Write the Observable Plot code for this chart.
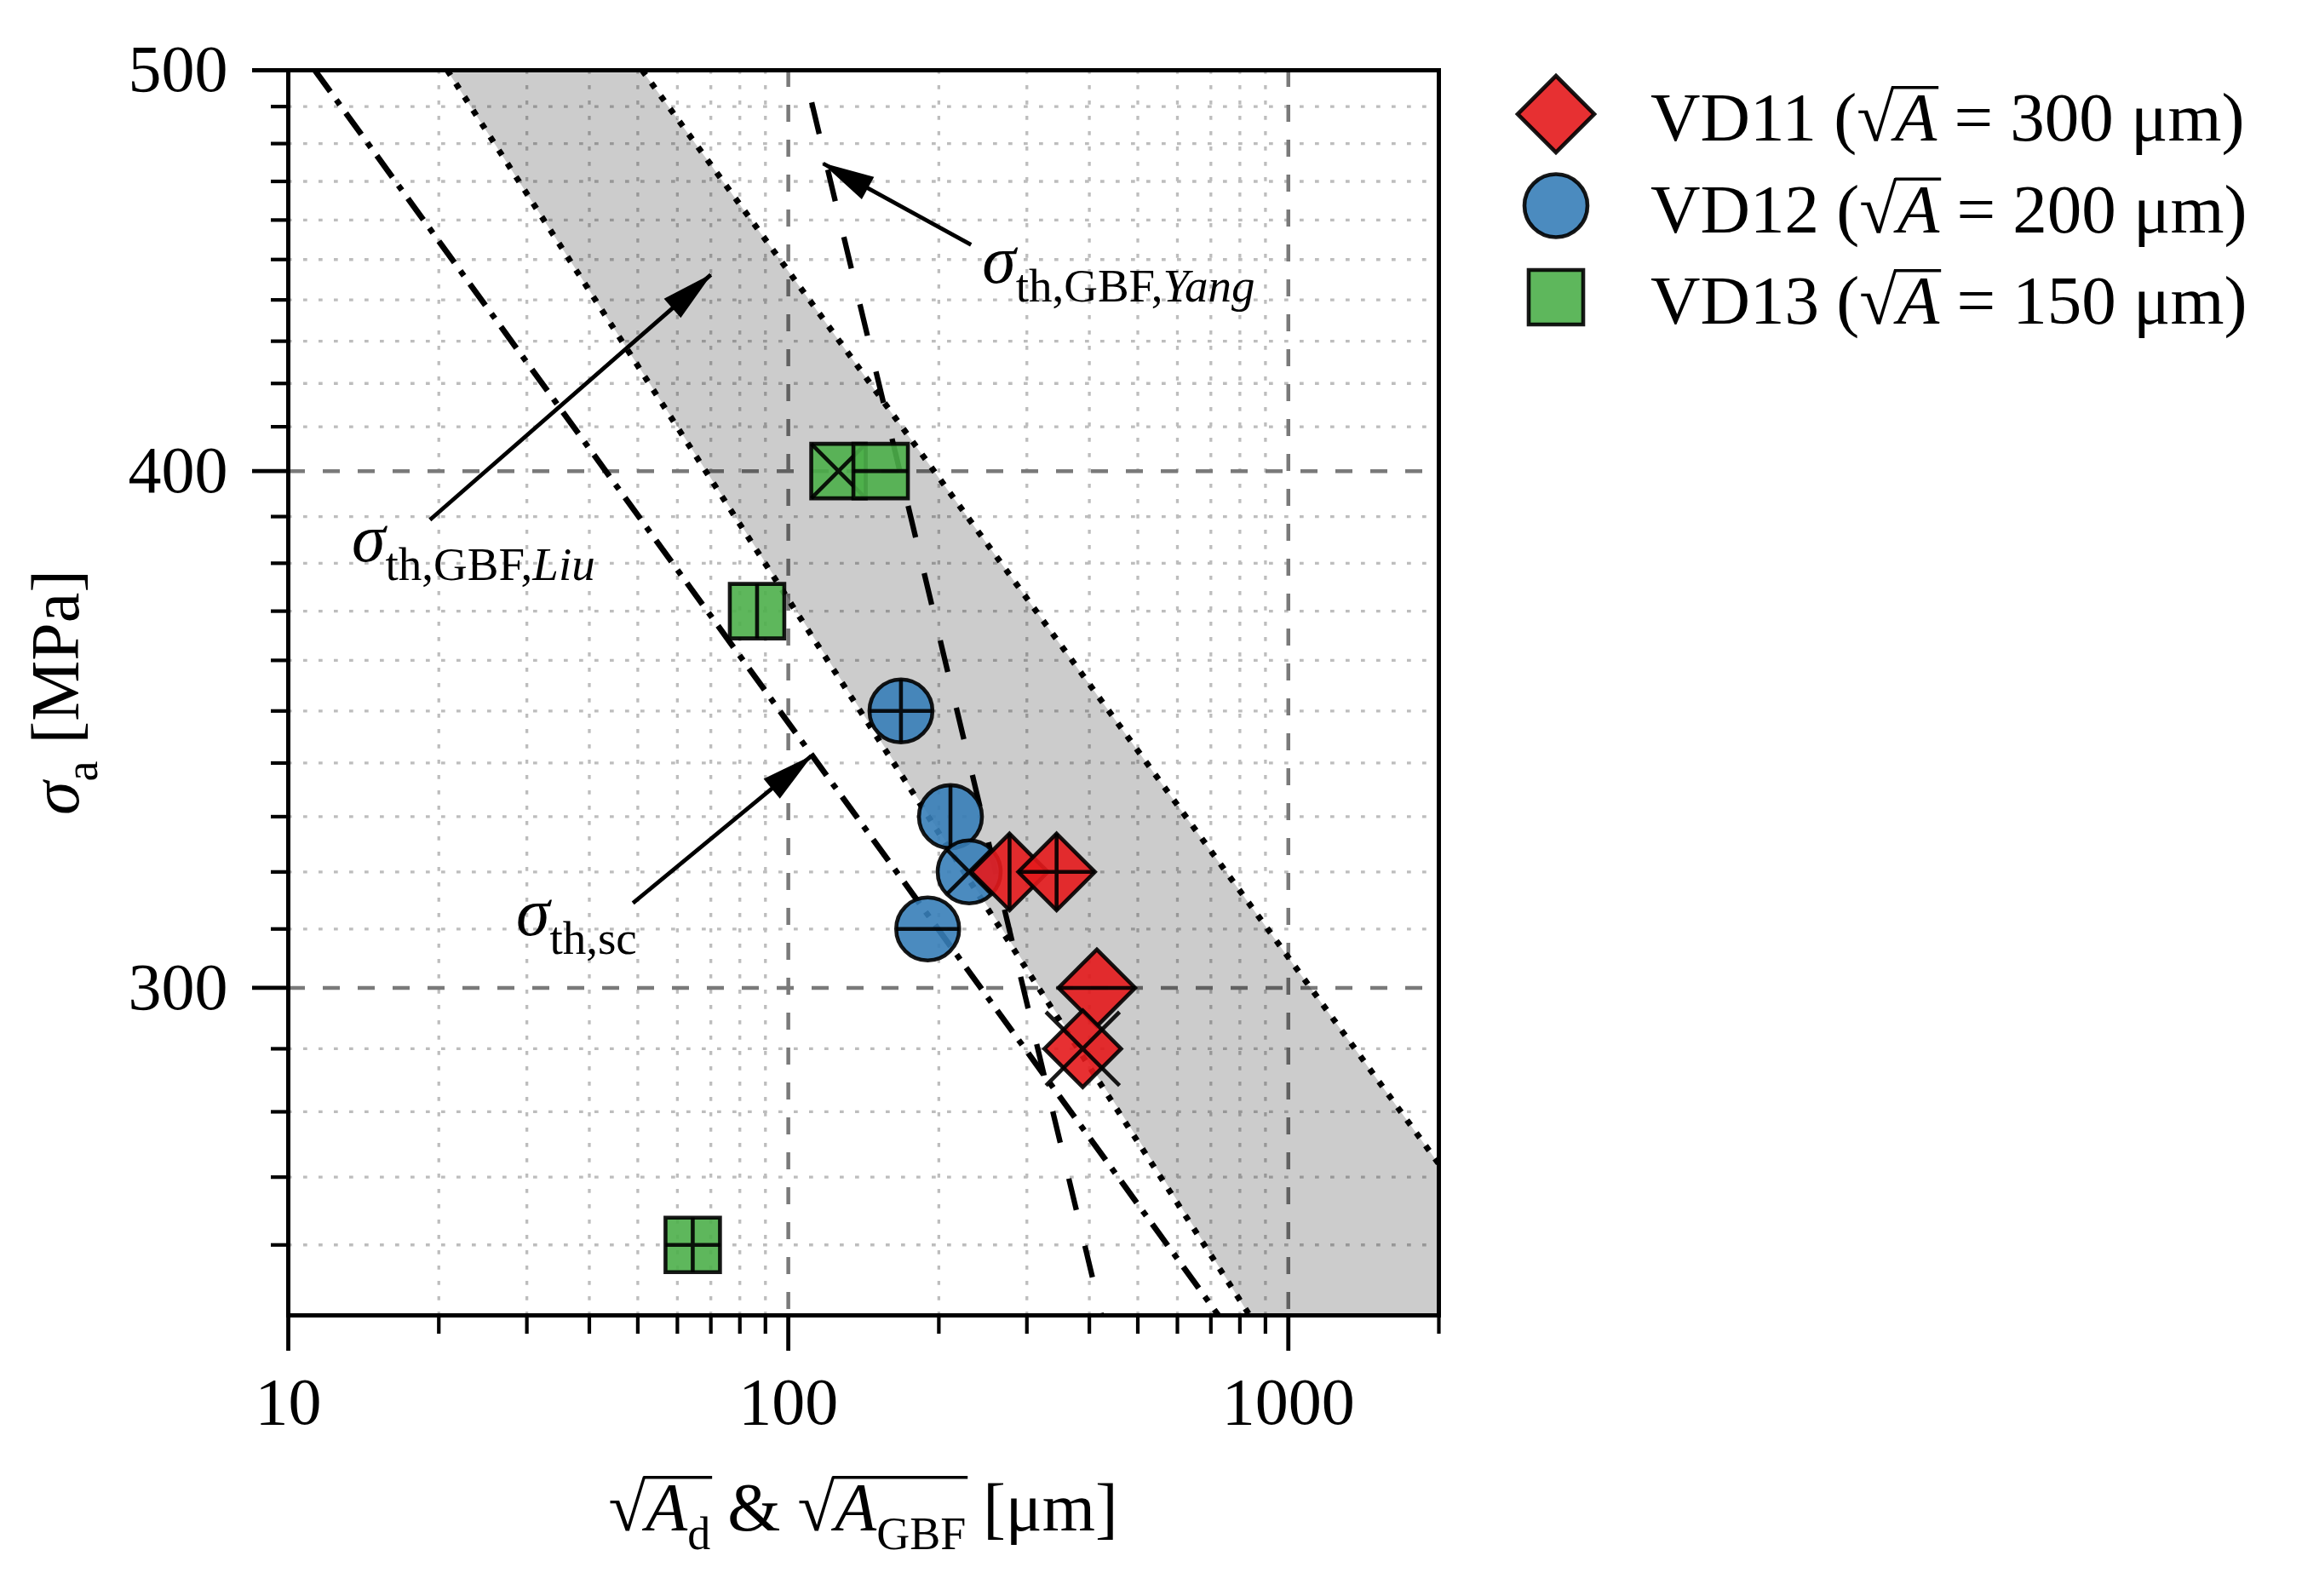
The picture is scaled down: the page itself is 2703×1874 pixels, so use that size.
<!DOCTYPE html>
<html><head><meta charset="utf-8">
<script src="https://cdn.jsdelivr.net/npm/d3@7"></script>
<script src="https://cdn.jsdelivr.net/npm/@observablehq/plot@0.6"></script>
<style>
html,body{margin:0;padding:0;background:#fff;}
#wrap{position:relative;width:2703px;height:1874px;overflow:hidden;}
</style></head><body><div id="wrap"></div>
<script>
// ---------- data ----------
const xMajorTicks = [10, 100, 1000];
const xMinorTicks = [20, 30, 40, 50, 60, 70, 80, 90, 200, 300, 400, 500, 600, 700, 800, 900, 2000];
const yMajorTicks = [300, 400, 500];
const yMinorTicks = [260, 270, 280, 290, 310, 320, 330, 340, 350, 360, 370, 380, 390, 410, 420, 430, 440, 450, 460, 470, 480, 490];

const seriesNames = ["VD11", "VD12", "VD13"];
const seriesSizes = ["300", "200", "150"];

const vd11X = [277, 344, 414, 388];
const vd11Y = [320, 320, 300, 290];
const vd11Mark = ["vline", "plus", "hline", "cross"];

const vd12X = [168, 211, 230, 190];
const vd12Y = [350, 330, 320, 310];
const vd12Mark = ["plus", "vline", "cross", "hline"];

const vd13X = [126, 153, 86.6, 64.4];
const vd13Y = [400, 400, 370, 260];
const vd13Mark = ["cross", "hline", "vline", "plus"];

// threshold lines (end points)
const scLineX = [11.3, 725];   const scLineY = [500, 250];
const liuLowX = [20.8, 837];   const liuLowY = [500, 250];
const liuHighX = [51, 2000];   const liuHighY = [500, 272];
const yangX = [107.5, 423];    const yangY = [500, 250];
const bandY = [500, 272, 250];
const bandX1 = [20.8, 539, 837];
const bandX2 = [51, 2000, 2000];

// annotations
const arrowTailX = [232, 19.2, 48.9];
const arrowTailY = [453.7, 389.3, 314.5];
const arrowTipX = [117.4, 70.0, 111.1];
const arrowTipY = [474.7, 446.2, 341.3];
const annotX = [244.6, 13.42, 28.6];
const annotY = [444.1, 380.4, 308.8];
const annotSub = ["th,GBF,", "th,GBF,", "th,sc"];
const annotSubItalic = ["Yang", "Liu", ""];

// ---------- helpers ----------
const FONT = "'Liberation Serif', 'Times New Roman', serif";
const pts = (xs, ys) => xs.map((x, i) => ({x, y: ys[i]}));
const rOf = (s) => Math.sqrt(s / Math.PI);
const shapes = {
  diamond: {draw(c, s) { const r = rOf(s); c.moveTo(0, -r); c.lineTo(r, 0); c.lineTo(0, r); c.lineTo(-r, 0); c.closePath(); }},
  circle: {draw(c, s) { const r = rOf(s); c.moveTo(r, 0); c.arc(0, 0, r, 0, 2 * Math.PI); c.closePath(); }},
  square: {draw(c, s) { const r = rOf(s); c.moveTo(-r, -r); c.lineTo(r, -r); c.lineTo(r, r); c.lineTo(-r, r); c.closePath(); }}
};
function overlay(kind, xk) {
  return {draw(c, s) {
    const r = rOf(s);
    if (kind === "vline" || kind === "plus") { c.moveTo(0, -r); c.lineTo(0, r); }
    if (kind === "hline" || kind === "plus") { c.moveTo(-r, 0); c.lineTo(r, 0); }
    if (kind === "cross") { const k = r * xk; c.moveTo(-k, -k); c.lineTo(k, k); c.moveTo(-k, k); c.lineTo(k, -k); }
  }};
}
const series = [
  {name: "VD12", xs: vd12X, ys: vd12Y, ms: vd12Mark, color: "#377eb8", shape: "circle", r: 37, xk: 0.7},
  {name: "VD11", xs: vd11X, ys: vd11Y, ms: vd11Mark, color: "#e41a1c", shape: "diamond", r: 45, xk: 0.96},
  {name: "VD13", xs: vd13X, ys: vd13Y, ms: vd13Mark, color: "#4daf4a", shape: "square", r: 32, xk: 1.0}
];
const legendOrder = ["VD11", "VD12", "VD13"];
const MSW = 4.6;

const dotMarks = [];
for (const s of series) {
  const data = s.xs.map((x, i) => ({x, y: s.ys[i], m: s.ms[i]}));
  data.forEach(d => {
    dotMarks.push(Plot.dot([d], {x: "x", y: "y", r: s.r, symbol: shapes[s.shape], fill: s.color, fillOpacity: 0.9, stroke: "black", strokeOpacity: 0.9, strokeWidth: MSW}));
    dotMarks.push(Plot.dot([d], {x: "x", y: "y", r: s.r, symbol: overlay(d.m, s.xk), fill: "none", stroke: "black", strokeOpacity: 0.9, strokeWidth: MSW}));
  });
}

const band = bandY.map((y, i) => ({y, x1: bandX1[i], x2: bandX2[i]}));
const arrows = arrowTailX.map((x, i) => ({x1: x, y1: arrowTailY[i], x2: arrowTipX[i], y2: arrowTipY[i]}));

const chart = Plot.plot({
  width: 1760, height: 1874,
  marginLeft: 338, marginRight: 71, marginTop: 82, marginBottom: 330,
  x: {type: "log", domain: [10, 2000]},
  y: {type: "log", domain: [250, 500]},
  style: {fontFamily: FONT, fontSize: "78px", background: "white", color: "black", overflow: "visible"},
  marks: [
    Plot.gridX(xMinorTicks, {stroke: "#bdbdbd", strokeOpacity: 1, strokeWidth: 3.3, strokeDasharray: "4.7,13.3"}),
    Plot.gridY(yMinorTicks, {stroke: "#bdbdbd", strokeOpacity: 1, strokeWidth: 3.3, strokeDasharray: "4.7,13.3"}),
    Plot.gridX(xMajorTicks.slice(1), {stroke: "#7a7a7a", strokeOpacity: 1, strokeWidth: 4.5, strokeDasharray: "20,21"}),
    Plot.gridY(yMajorTicks.slice(0, 2), {stroke: "#7a7a7a", strokeOpacity: 1, strokeWidth: 4.5, strokeDasharray: "20,21"}),
    Plot.areaX(band, {y: "y", x1: "x1", x2: "x2", fill: "black", fillOpacity: 0.2, clip: true}),
    Plot.line(pts(liuLowX, liuLowY), {x: "x", y: "y", stroke: "black", strokeWidth: 7, strokeDasharray: "7,11.6", strokeLinecap: "butt", clip: true}),
    Plot.line(pts(liuHighX, liuHighY), {x: "x", y: "y", stroke: "black", strokeWidth: 7, strokeDasharray: "7,11.6", strokeLinecap: "butt", clip: true}),
    Plot.line(pts(scLineX, scLineY), {x: "x", y: "y", stroke: "black", strokeWidth: 6.8, strokeDasharray: "31,12,7,12", strokeLinecap: "butt", clip: true}),
    Plot.line(pts(yangX, yangY), {x: "x", y: "y", stroke: "black", strokeWidth: 6.3, strokeDasharray: "38,43.2", strokeDashoffset: 42.4, strokeLinecap: "butt", clip: true}),
    Plot.link(arrows, {x1: "x1", y1: "y1", x2: "x2", y2: "y2", stroke: "black", strokeWidth: 4.8}),
    ...dotMarks,
    Plot.frame({stroke: "black", strokeWidth: 5}),
    Plot.axisX(xMinorTicks, {tickSize: 22, strokeWidth: 4.2, fill: "none", label: null}),
    Plot.axisX(xMajorTicks, {tickSize: 42, tickPadding: 30, strokeWidth: 4.8, tickFormat: d => String(d), fontSize: 78, label: null}),
    Plot.axisY(yMinorTicks, {tickSize: 20, strokeWidth: 4.2, fill: "none", label: null}),
    Plot.axisY(yMajorTicks, {tickSize: 42, tickPadding: 29, strokeWidth: 4.8, tickFormat: d => String(d), fontSize: 78, label: null})
  ]
});
const wrap = document.getElementById("wrap");
wrap.appendChild(chart);
const svg = d3.select(chart);
const sx = chart.scale("x"), sy = chart.scale("y");

// arrow heads
const defs = svg.insert("defs", ":first-child");
defs.append("marker").attr("id", "ahead").attr("markerUnits", "userSpaceOnUse")
  .attr("viewBox", "-65 -20 70 40").attr("refX", 0).attr("refY", 0)
  .attr("markerWidth", 70).attr("markerHeight", 40).attr("orient", "auto")
  .append("path").attr("d", "M2,0 L-60,-15 L-60,15 Z").attr("fill", "black");
svg.selectAll('g[aria-label="link"] path').attr("marker-end", "url(#ahead)");

// rich text helper
const ctx = document.createElement("canvas").getContext("2d");
function rich(parent, x, y, parts, {anchor = "start", fs = 80, subFs = 54, subShift = 22} = {}) {
  const t = parent.append("text").attr("x", x).attr("y", y).attr("text-anchor", anchor)
    .attr("font-size", fs).attr("font-family", FONT).attr("fill", "black");
  let idx = 0, prevSub = false;
  const info = [];
  for (const p of parts) {
    const ts = t.append("tspan").text(p.t);
    if (p.italic) ts.attr("font-style", "italic");
    const isSub = !!p.sub;
    if (isSub) ts.attr("font-size", subFs);
    if (isSub !== prevSub) ts.attr("dy", isSub ? subShift : -subShift);
    prevSub = isSub;
    info.push({start: idx, end: idx + p.t.length - 1, p});
    idx += p.t.length;
  }
  const node = t.node();
  info.forEach((it, k) => {
    if (it.p.rad) {
      ctx.font = `${fs}px ${FONT}`;
      const m = ctx.measureText("√");
      const st = node.getStartPositionOfChar(it.start);
      const x0 = st.x + m.actualBoundingBoxRight - 3;
      const yTop = st.y - m.actualBoundingBoxAscent + 1.8;
      const last = k + it.p.rad;
      const x1 = node.getEndPositionOfChar(info[last].end).x + 2;
      parent.append("line").attr("x1", x0).attr("x2", x1).attr("y1", yTop).attr("y2", yTop)
        .attr("stroke", "black").attr("stroke-width", 3.6);
    }
  });
  return t;
}

const ann = svg.append("g");
for (let i = 0; i < annotX.length; i++) {
  const parts = [{t: "σ", italic: true}, {t: annotSub[i], sub: true}];
  if (annotSubItalic[i]) parts.push({t: annotSubItalic[i], sub: true, italic: true});
  rich(ann, sx.apply(annotX[i]), sy.apply(annotY[i]), parts, {fs: 80, subFs: 55, subShift: 22});
}

// axis labels
rich(svg.append("g"), (338 + 1689) / 2, 1797, [
  {t: "√", rad: 2}, {t: "A", italic: true}, {t: "d", sub: true}, {t: " & "},
  {t: "√", rad: 2}, {t: "A", italic: true}, {t: "GBF", sub: true}, {t: " [μm]"}
], {anchor: "middle", fs: 80, subFs: 54, subShift: 22});
const yl = svg.append("g").attr("transform", `translate(92,${(82 + 1544) / 2}) rotate(-90)`);
rich(yl, 0, 0, [{t: "σ", italic: true}, {t: "a", sub: true}, {t: " [MPa]"}], {anchor: "middle", fs: 80, subFs: 54, subShift: 22});

// legend
const leg = d3.select(wrap).append("svg").attr("width", 943).attr("height", 470)
  .style("position", "absolute").style("left", "1760px").style("top", "0px");
legendOrder.forEach((name, i) => {
  const s = series.find(d => d.name === name);
  const cy = 134 + i * 107.5;
  leg.append("path").attr("transform", `translate(67,${cy})`)
    .attr("d", d3.symbol(shapes[s.shape], s.r * s.r * Math.PI)())
    .attr("fill", s.color).attr("fill-opacity", 0.9).attr("stroke", "black").attr("stroke-opacity", 0.9).attr("stroke-width", MSW);
  const k = seriesNames.indexOf(name);
  rich(leg, 178, cy + 31, [
    {t: name + " ("}, {t: "√", rad: 1}, {t: "A", italic: true}, {t: " = " + seriesSizes[k] + " μm)"}
  ], {fs: 81});
});
</script>
</body></html>
